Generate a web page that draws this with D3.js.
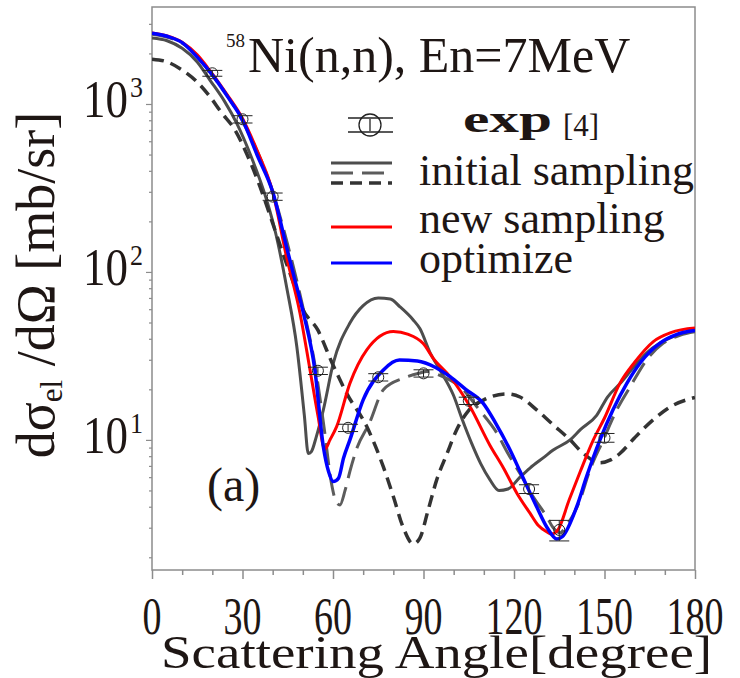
<!DOCTYPE html>
<html>
<head>
<meta charset="utf-8">
<script src="https://cdn.jsdelivr.net/npm/d3@7"></script>
<style>
  body { margin: 0; background: #fff; }
  svg { display: block; }
</style>
</head>
<body>
<div id="chart"></div>
<script>
// Experimental points (angle in degree, dsigma/dOmega in mb/sr, relative error)
const expAngle = [20, 30, 40, 55, 65, 75, 90, 105, 125, 135, 150];
const expValue = [1524, 811, 281, 25.8, 11.8, 23.6, 24.9, 17.1, 5.1, 2.91, 10.3];
const expErr   = [0.04, 0.05, 0.05, 0.05, 0.05, 0.05, 0.05, 0.05, 0.06, 0.14, 0.06];

// initial sampling, solid gray
const solidAngle = [0, 5, 10, 15, 19.2, 24, 28.1, 33, 38, 41, 44.7, 48, 50.5, 51.8, 52.8, 54.5, 56.8, 60.1, 65.6, 70, 75, 79, 82.2, 86.6, 88.8, 92.2, 95.5, 99.9, 103, 106, 109, 112, 115, 118, 122, 125.3, 130, 133, 138.6, 142, 147.4, 151, 155, 160, 164, 168.4, 174, 180];
const solidValue = [2470, 2380, 2146, 1780, 1389, 1040, 767, 480, 268, 170, 80, 36, 14, 8.3, 8.5, 10.5, 15.1, 28.6, 49.6, 63, 70, 69, 62, 51.8, 46, 33, 26, 18.5, 13, 9.5, 7.2, 5.8, 5.0, 5.1, 6.0, 6.8, 7.9, 8.7, 10, 11.5, 14, 18, 21.5, 27.5, 33, 37.7, 42, 45];

// initial sampling, long dash gray
const longAngle = [0, 10, 20, 30, 40, 45, 50, 54, 57, 59.5, 61, 62.3, 64, 65.6, 68, 72, 76.7, 83.3, 88.8, 91, 96, 103.2, 108, 114.3, 118, 122, 126, 130.8, 133, 135.3, 137.5, 141.9, 145, 149.6, 154, 158.5, 164, 169.5, 175, 180];
const longValue = [2600, 2300, 1480, 790, 300, 145, 62, 28, 12, 5.5, 4.3, 4.1, 5, 6.5, 9, 12.5, 19.9, 23.3, 25, 25.5, 24, 19.9, 15.5, 11, 8.3, 6.3, 4.7, 3.5, 3.0, 2.8, 3.1, 4.4, 6.5, 10, 15, 20.7, 30, 37.7, 42, 44];

// initial sampling, short dash dark
const shortAngle = [0, 5, 10, 15, 19.2, 23, 27.5, 31.5, 35.8, 40, 44, 47, 49.6, 55, 59.6, 64.5, 71.2, 76.7, 80, 83.3, 86.6, 88.8, 91.5, 94.4, 97.7, 101, 105, 110, 117.5, 122, 127.5, 133, 138.6, 143, 148.5, 152, 155.1, 160, 166.2, 172, 180];
const shortValue = [1850, 1780, 1593, 1350, 1106, 890, 700, 500, 322, 195, 120, 85, 62, 45, 29, 19, 12, 6.9, 4.6, 3.0, 2.4, 2.6, 3.8, 5.8, 8.2, 11.5, 15, 17.3, 18.8, 18, 15.1, 12.3, 10, 8.3, 7.3, 7.6, 8.3, 10.3, 13.2, 15.8, 17.9];

// new sampling, red
const redAngle = [0, 5, 10, 15, 20, 25, 30, 35, 40, 44.6, 49.06, 52.4, 55, 57.3, 59, 61.2, 65.6, 71.2, 80, 85, 89.9, 93.3, 98.8, 105.4, 112, 116.5, 121, 125.3, 128, 130.8, 132.5, 134.5, 138.3, 142, 146.3, 150, 155.1, 160, 166.2, 172, 180];
const redValue = [2650, 2540, 2330, 1960, 1510, 1130, 820, 520, 300, 123, 56.8, 26, 14, 8.8, 10, 12, 21.7, 34.4, 44.2, 42.5, 37.5, 30.5, 23.8, 15.8, 9.3, 6.8, 4.8, 3.66, 3.1, 2.84, 2.75, 2.9, 4.4, 6.5, 10, 13.5, 21.7, 29, 38.5, 43.5, 46.3];

// optimize, blue
const blueAngle = [0, 5, 10, 15, 20, 25, 30, 35, 40, 44.6, 47, 50.2, 54, 56.8, 58.5, 60.1, 61.8, 63.5, 65.6, 70, 76.7, 82, 88, 94, 98.8, 104, 109.8, 114, 118.7, 122, 127.5, 131, 134.2, 136, 140.8, 144, 148.5, 157.4, 162, 168.4, 174, 180];
const blueValue = [2640, 2530, 2320, 1900, 1490, 1110, 803, 490, 300, 141, 95, 56.8, 26, 9.1, 6.5, 5.65, 5.9, 7.8, 10, 17.3, 26.1, 29.9, 29.5, 27, 23.8, 20, 16.5, 12.5, 8.7, 6.5, 4.0, 3.0, 2.57, 2.65, 4.0, 6, 10, 21.7, 29, 37.7, 42.5, 44.8];

// ticks
const xMajor = [0, 30, 60, 90, 120, 150, 180];
const xMinor = [10, 20, 40, 50, 70, 80, 100, 110, 130, 140, 160, 170];
const yMajor = [10, 100, 1000];
const yMajorExp = ["1", "2", "3"];
const yMinor = [2, 3, 4, 5, 6, 7, 8, 9, 20, 30, 40, 50, 60, 70, 80, 90, 200, 300, 400, 500, 600, 700, 800, 900, 2000, 3000];

const W = 740, H = 678;
const margin = { top: 7, right: 45, bottom: 108, left: 152 };
const serif = "'Liberation Serif', 'Times New Roman', serif";
const ink = "#1e1614";

const svg = d3.select("#chart").append("svg")
  .attr("width", W).attr("height", H);

const x = d3.scaleLinear().domain([0, 180]).range([margin.left, W - margin.right]);
const y = d3.scaleLog().domain([1.68, 3780]).range([H - margin.bottom, margin.top]);

svg.append("clipPath").attr("id", "plotclip")
  .append("rect")
  .attr("x", margin.left).attr("y", margin.top)
  .attr("width", W - margin.left - margin.right)
  .attr("height", H - margin.top - margin.bottom);

// frame
svg.append("rect")
  .attr("x", margin.left).attr("y", margin.top)
  .attr("width", W - margin.left - margin.right)
  .attr("height", H - margin.top - margin.bottom)
  .attr("fill", "none").attr("stroke", "#8c8c8c").attr("stroke-width", 1.5);

// x axis ticks
const xAxisG = svg.append("g").attr("transform", `translate(0,${H - margin.bottom})`);
xAxisG.call(d3.axisBottom(x).tickValues(xMajor).tickSize(9).tickFormat(""));
xAxisG.append("g").call(d3.axisBottom(x).tickValues(xMinor).tickSize(5).tickFormat(""));
xAxisG.selectAll(".domain").remove();
xAxisG.selectAll("line").attr("stroke", "#8c8c8c").attr("stroke-width", 1.5);

// y axis ticks
const yAxisG = svg.append("g").attr("transform", `translate(${margin.left},0)`);
yAxisG.call(d3.axisLeft(y).tickValues(yMajor).tickSize(6).tickFormat(""));
yAxisG.append("g").call(d3.axisLeft(y).tickValues(yMinor).tickSize(3).tickFormat(""));
yAxisG.selectAll(".domain").remove();
yAxisG.selectAll("line").attr("stroke", "#8c8c8c").attr("stroke-width", 1.2);

// x tick labels (tall, narrow glyphs as in the figure)
svg.append("g").selectAll("g")
  .data(xMajor).enter().append("g")
  .attr("transform", d => `translate(${x(d)},634) scale(1,1.4)`)
  .append("text")
  .attr("text-anchor", "middle")
  .attr("font-family", serif).attr("font-size", 38)
  .attr("fill", ink)
  .text(d => d);

// y tick labels 10^n
const yLab = svg.append("g").selectAll("g")
  .data(yMajor).enter().append("g");
yLab.append("g")
  .attr("transform", d => `translate(128,${y(d) + 13}) scale(1,1.15)`)
  .append("text")
  .attr("text-anchor", "end")
  .attr("font-family", serif).attr("font-size", 45)
  .attr("fill", ink)
  .text("10");
yLab.append("g")
  .attr("transform", d => `translate(130,${y(d) - 7}) scale(1,1.15)`)
  .append("text")
  .attr("font-family", serif).attr("font-size", 26)
  .attr("fill", ink)
  .text((d, i) => yMajorExp[i]);

// axis titles
svg.append("g")
  .attr("transform", "translate(161,668) scale(1,0.86)")
  .append("text")
  .attr("font-family", serif).attr("font-size", 55)
  .attr("fill", ink)
  .text("Scattering Angle[degree]");

const yTitle = svg.append("text")
  .attr("transform", "translate(54,285) rotate(-90)")
  .attr("text-anchor", "middle")
  .attr("font-family", serif).attr("font-size", 54)
  .attr("fill", ink);
yTitle.append("tspan").text("dσ");
yTitle.append("tspan").attr("font-size", 31).attr("dy", 8).text("el");
yTitle.append("tspan").attr("dy", -8).text(" /dΩ [mb/sr]");

// curves
const line = d3.line()
  .x(d => x(d[0]))
  .y(d => y(d[1]))
  .curve(d3.curveMonotoneX);

const plot = svg.append("g").attr("clip-path", "url(#plotclip)");
const series = [
  { a: solidAngle, v: solidValue, color: "#4d4d4d", w: 3, dash: null },
  { a: longAngle, v: longValue, color: "#5c5c5c", w: 3, dash: "22,9" },
  { a: shortAngle, v: shortValue, color: "#333333", w: 3.5, dash: "12,7" },
  { a: redAngle, v: redValue, color: "#ff0000", w: 3, dash: null },
  { a: blueAngle, v: blueValue, color: "#0000ff", w: 3.5, dash: null }
];
series.forEach(s => {
  plot.append("path")
    .datum(s.a.map((d, i) => [d, s.v[i]]))
    .attr("d", line)
    .attr("fill", "none")
    .attr("stroke", s.color)
    .attr("stroke-width", s.w)
    .attr("stroke-dasharray", s.dash);
});

// experimental points
const expG = plot.append("g").selectAll("g")
  .data(expAngle.map((d, i) => ({ a: d, v: expValue[i], e: expErr[i] })))
  .enter().append("g")
  .attr("stroke", "#222").attr("stroke-width", 1).attr("fill", "none");
expG.append("line")
  .attr("x1", d => x(d.a)).attr("x2", d => x(d.a))
  .attr("y1", d => y(d.v * (1 - d.e))).attr("y2", d => y(d.v * (1 + d.e)));
expG.append("line")
  .attr("x1", d => x(d.a) - 10).attr("x2", d => x(d.a) + 10)
  .attr("y1", d => y(d.v * (1 - d.e))).attr("y2", d => y(d.v * (1 - d.e)));
expG.append("line")
  .attr("x1", d => x(d.a) - 10).attr("x2", d => x(d.a) + 10)
  .attr("y1", d => y(d.v * (1 + d.e))).attr("y2", d => y(d.v * (1 + d.e)));
expG.append("circle")
  .attr("cx", d => x(d.a)).attr("cy", d => y(d.v)).attr("r", 5.5);

// title
const title = svg.append("g");
title.append("text")
  .attr("x", 226).attr("y", 47)
  .attr("font-family", serif).attr("font-size", 19).attr("fill", ink)
  .text("58");
title.append("text")
  .attr("x", 248).attr("y", 72)
  .attr("font-family", serif).attr("font-size", 50).attr("fill", ink)
  .text("Ni(n,n), En=7MeV");

// legend
const leg = svg.append("g");
const lx1 = 331, lx2 = 392;
const ex = 370, ey = 125;
const expSym = leg.append("g").attr("stroke", "#222").attr("stroke-width", 1.3).attr("fill", "none");
expSym.append("circle").attr("cx", ex).attr("cy", ey).attr("r", 11);
expSym.append("line").attr("x1", 348).attr("x2", 393).attr("y1", ey - 7).attr("y2", ey - 7);
expSym.append("line").attr("x1", 348).attr("x2", 393).attr("y1", ey + 7).attr("y2", ey + 7);
expSym.append("line").attr("x1", ex).attr("x2", ex).attr("y1", ey - 6).attr("y2", ey + 6);

leg.append("text")
  .attr("x", 463).attr("y", 132)
  .attr("font-family", serif).attr("font-size", 38).attr("font-weight", "bold")
  .attr("fill", ink)
  .attr("textLength", 89).attr("lengthAdjust", "spacingAndGlyphs")
  .text("exp");
leg.append("text")
  .attr("x", 563).attr("y", 136)
  .attr("font-family", serif).attr("font-size", 31).attr("fill", ink)
  .text("[4]");

const legLines = [
  { y: 163, color: "#4d4d4d", w: 3, dash: null },
  { y: 173, color: "#5c5c5c", w: 3, dash: "22,9" },
  { y: 183, color: "#333333", w: 3.5, dash: "12,7" },
  { y: 227, color: "#ff0000", w: 3, dash: null },
  { y: 263, color: "#0000ff", w: 3, dash: null }
];
legLines.forEach(l => {
  leg.append("line")
    .attr("x1", lx1).attr("x2", lx2).attr("y1", l.y).attr("y2", l.y)
    .attr("stroke", l.color).attr("stroke-width", l.w)
    .attr("stroke-dasharray", l.dash);
});

const legTexts = [
  { t: "initial sampling", y: 185 },
  { t: "new sampling", y: 233 },
  { t: "optimize", y: 273 }
];
legTexts.forEach(d => {
  leg.append("text")
    .attr("x", 419).attr("y", d.y)
    .attr("font-family", serif).attr("font-size", 44).attr("fill", ink)
    .text(d.t);
});

// panel label
svg.append("text")
  .attr("x", 207).attr("y", 501)
  .attr("font-family", serif).attr("font-size", 48).attr("fill", ink)
  .text("(a)");
</script>
</body>
</html>
